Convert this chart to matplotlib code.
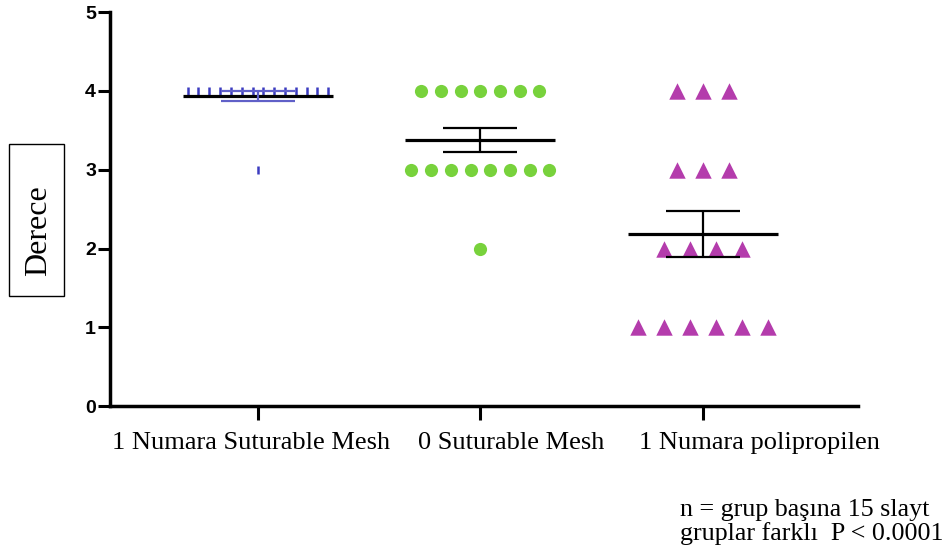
import numpy as np
import matplotlib.pyplot as plt
from matplotlib.patches import Rectangle

# group labels and scores
groups = ['1 Numara Suturable Mesh', '0 Suturable Mesh', '1 Numara polipropilen']
grades = [1, 2, 3, 4]
counts_g1 = [0, 0, 1, 14]   # how many points at grade 1, 2, 3, 4
counts_g2 = [0, 1, 8, 7]
counts_g3 = [6, 4, 3, 3]
all_counts = [counts_g1, counts_g2, counts_g3]

colors = ['#3c3cc0', '#78d23c', '#b43cac']
markers = ['|', 'o', '^']
sizes = [40, 90, 140]
spacing = [0.0486, 0.0885, 0.117]
# the category labels in the original sit off-centre from their ticks
label_shift = [-0.03, 0.14, 0.256]

fig = plt.figure(figsize=(9.48, 5.54), dpi=100)
ax = fig.add_axes([0.116, 0.267, 0.789, 0.711])

for i, counts in enumerate(all_counts):
    vals = []
    for g, n in zip(grades, counts):
        if n == 0:
            continue
        offs = (np.arange(n) - (n - 1) / 2) * spacing[i]
        ax.scatter(i + offs, [g] * n, marker=markers[i], s=sizes[i],
                   color=colors[i], linewidths=1.8 if markers[i] == '|' else 0,
                   zorder=3)
        vals += [g] * n
    vals = np.array(vals, dtype=float)
    mean = vals.mean()
    sem = vals.std(ddof=1) / np.sqrt(len(vals))
    ecol = '#6060c8' if i == 0 else 'black'
    ax.hlines(mean, i - 0.337, i + 0.337, color='black', lw=2.3, zorder=4)
    ax.vlines(i, mean - sem, mean + sem, color=ecol, lw=1.6, zorder=4)
    ax.hlines([mean - sem, mean + sem], i - 0.166, i + 0.166, color=ecol, lw=1.6, zorder=4)

ax.set_xlim(-0.665, 2.697)
ax.set_ylim(0, 5)
ax.set_xticks(range(len(groups)))
ax.set_xticklabels([])
for i, name in enumerate(groups):
    ax.text(i + label_shift[i], -0.065, name, transform=ax.get_xaxis_transform(),
            ha='center', va='top', family='Liberation Serif', fontsize=19)
ax.set_yticks(range(6))
ax.set_yticklabels([str(v) for v in range(6)], family='Liberation Sans',
                   fontweight='bold', fontsize=14)
ax.tick_params(axis='y', length=9, width=2.2, pad=1)
ax.tick_params(axis='x', length=10, width=2.2, pad=4)
for s in ['top', 'right']:
    ax.spines[s].set_visible(False)
for s in ['left', 'bottom']:
    ax.spines[s].set_linewidth(2.5)

# boxed y label
fig.add_artist(Rectangle((9 / 948, 1 - 296 / 554), 55 / 948, 152 / 554,
                         transform=fig.transFigure, fill=False, lw=1, ec='black'))
fig.text(39 / 948, 1 - 231 / 554, 'Derece', rotation=90, ha='center', va='center',
         family='Liberation Serif', fontsize=23)

fig.text(680 / 948, 1 - 510 / 554, 'n = grup başına 15 slayt', ha='left', va='center',
         family='Liberation Serif', fontsize=18.7)
fig.text(680 / 948, 1 - 534 / 554, 'gruplar farklı  P < 0.0001', ha='left', va='center',
         family='Liberation Serif', fontsize=18.7)

fig.savefig('out.png', dpi=100)
